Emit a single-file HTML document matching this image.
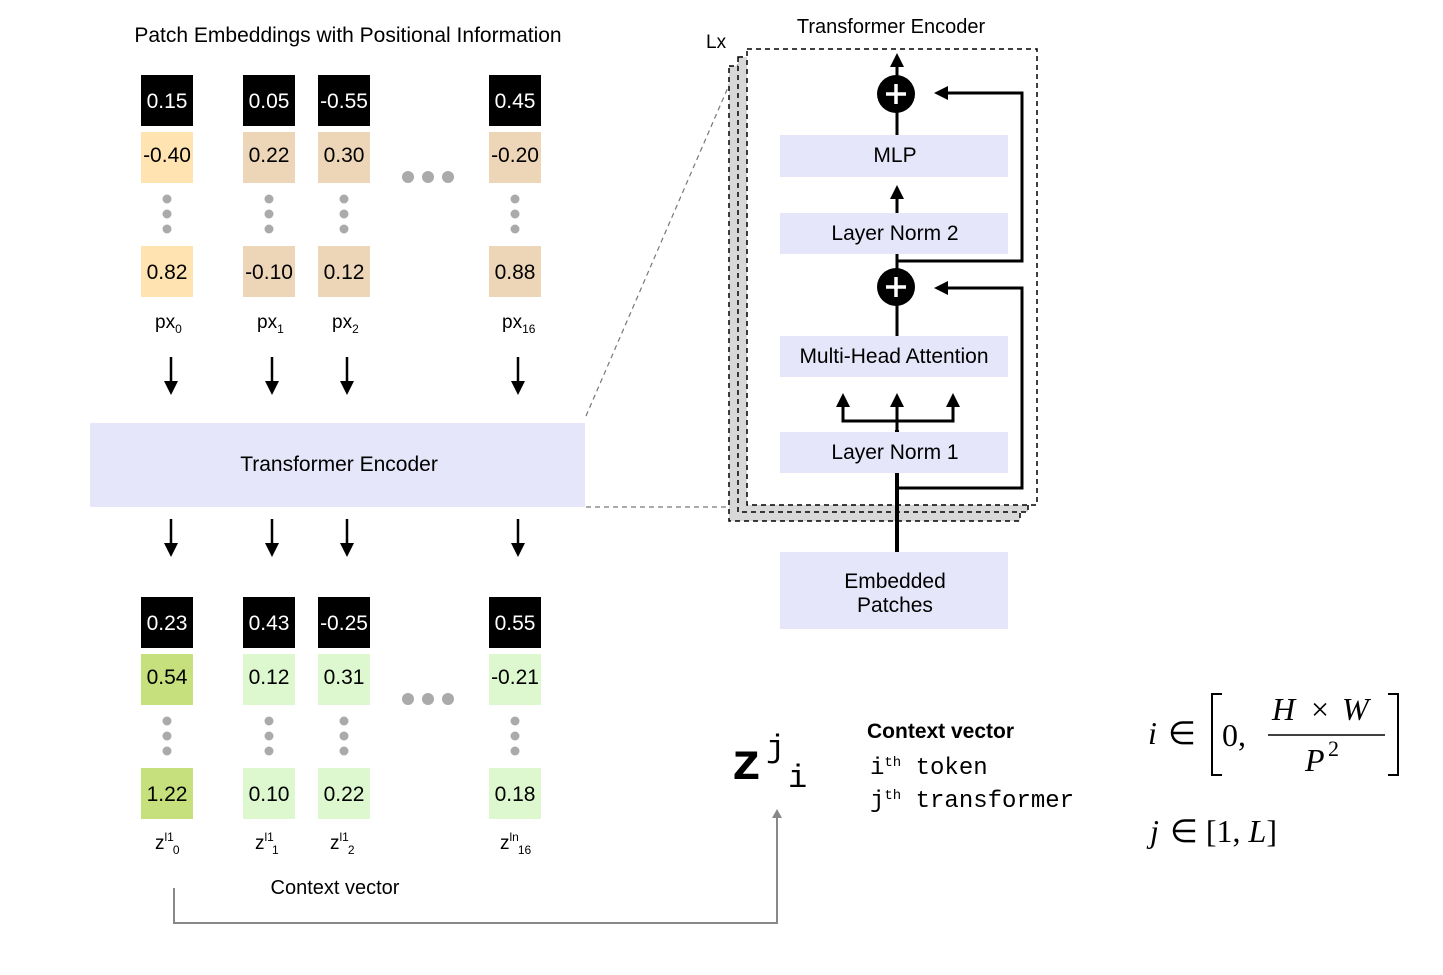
<!DOCTYPE html>
<html><head><meta charset="utf-8"><style>
html,body{margin:0;padding:0;background:#fff;}
svg{display:block;}
</style></head><body>
<svg width="1443" height="975" viewBox="0 0 1443 975" xmlns="http://www.w3.org/2000/svg" font-family="Liberation Sans, sans-serif">
<defs>
<marker id="ah" markerWidth="14" markerHeight="14" refX="7" refY="7" orient="auto" markerUnits="userSpaceOnUse"><path d="M0,0 L14,7 L0,14 Z" fill="#000"/></marker>
</defs>
<rect width="1443" height="975" fill="#fff"/>
<text x="348" y="42" font-size="21" text-anchor="middle">Patch Embeddings with Positional Information</text>

<g font-size="21" text-anchor="middle">
<rect x="141" y="75" width="52" height="51" fill="#000"/><text x="167" y="108" fill="#fff">0.15</text>
<rect x="243" y="75" width="52" height="51" fill="#000"/><text x="269" y="108" fill="#fff">0.05</text>
<rect x="318" y="75" width="52" height="51" fill="#000"/><text x="344" y="108" fill="#fff">-0.55</text>
<rect x="489" y="75" width="52" height="51" fill="#000"/><text x="515" y="108" fill="#fff">0.45</text>
<rect x="141" y="132" width="52" height="51" fill="#FFE4B2"/><text x="167" y="162">-0.40</text>
<rect x="243" y="132" width="52" height="51" fill="#EDD5B8"/><text x="269" y="162">0.22</text>
<rect x="318" y="132" width="52" height="51" fill="#EDD5B8"/><text x="344" y="162">0.30</text>
<rect x="489" y="132" width="52" height="51" fill="#EDD5B8"/><text x="515" y="162">-0.20</text>
<rect x="141" y="246" width="52" height="51" fill="#FFE4B2"/><text x="167" y="279">0.82</text>
<rect x="243" y="246" width="52" height="51" fill="#EDD5B8"/><text x="269" y="279">-0.10</text>
<rect x="318" y="246" width="52" height="51" fill="#EDD5B8"/><text x="344" y="279">0.12</text>
<rect x="489" y="246" width="52" height="51" fill="#EDD5B8"/><text x="515" y="279">0.88</text>
<rect x="141" y="597" width="52" height="51" fill="#000"/><text x="167" y="630" fill="#fff">0.23</text>
<rect x="243" y="597" width="52" height="51" fill="#000"/><text x="269" y="630" fill="#fff">0.43</text>
<rect x="318" y="597" width="52" height="51" fill="#000"/><text x="344" y="630" fill="#fff">-0.25</text>
<rect x="489" y="597" width="52" height="51" fill="#000"/><text x="515" y="630" fill="#fff">0.55</text>
<rect x="141" y="654" width="52" height="51" fill="#C5E07C"/><text x="167" y="684">0.54</text>
<rect x="243" y="654" width="52" height="51" fill="#DDF7CF"/><text x="269" y="684">0.12</text>
<rect x="318" y="654" width="52" height="51" fill="#DDF7CF"/><text x="344" y="684">0.31</text>
<rect x="489" y="654" width="52" height="51" fill="#DDF7CF"/><text x="515" y="684">-0.21</text>
<rect x="141" y="768" width="52" height="51" fill="#C5E07C"/><text x="167" y="801">1.22</text>
<rect x="243" y="768" width="52" height="51" fill="#DDF7CF"/><text x="269" y="801">0.10</text>
<rect x="318" y="768" width="52" height="51" fill="#DDF7CF"/><text x="344" y="801">0.22</text>
<rect x="489" y="768" width="52" height="51" fill="#DDF7CF"/><text x="515" y="801">0.18</text>
</g>

<g fill="#AAAAAA">
<circle cx="167" cy="199" r="4.5"/><circle cx="167" cy="214" r="4.5"/><circle cx="167" cy="229" r="4.5"/>
<circle cx="269" cy="199" r="4.5"/><circle cx="269" cy="214" r="4.5"/><circle cx="269" cy="229" r="4.5"/>
<circle cx="344" cy="199" r="4.5"/><circle cx="344" cy="214" r="4.5"/><circle cx="344" cy="229" r="4.5"/>
<circle cx="515" cy="199" r="4.5"/><circle cx="515" cy="214" r="4.5"/><circle cx="515" cy="229" r="4.5"/>
<circle cx="408" cy="177" r="6"/><circle cx="428" cy="177" r="6"/><circle cx="448" cy="177" r="6"/>
<circle cx="167" cy="721" r="4.5"/><circle cx="167" cy="736" r="4.5"/><circle cx="167" cy="751" r="4.5"/>
<circle cx="269" cy="721" r="4.5"/><circle cx="269" cy="736" r="4.5"/><circle cx="269" cy="751" r="4.5"/>
<circle cx="344" cy="721" r="4.5"/><circle cx="344" cy="736" r="4.5"/><circle cx="344" cy="751" r="4.5"/>
<circle cx="515" cy="721" r="4.5"/><circle cx="515" cy="736" r="4.5"/><circle cx="515" cy="751" r="4.5"/>
<circle cx="408" cy="699" r="6"/><circle cx="428" cy="699" r="6"/><circle cx="448" cy="699" r="6"/>
</g>

<g font-size="19">
<text x="155" y="328">px<tspan font-size="12" dy="5">0</tspan></text>
<text x="257" y="328">px<tspan font-size="12" dy="5">1</tspan></text>
<text x="332" y="328">px<tspan font-size="12" dy="5">2</tspan></text>
<text x="502" y="328">px<tspan font-size="12" dy="5">16</tspan></text>
<text x="155" y="849">z<tspan font-size="12" dy="-8">l1</tspan><tspan font-size="12" dx="-1" dy="13">0</tspan></text>
<text x="255" y="849">z<tspan font-size="12" dy="-8">l1</tspan><tspan font-size="12" dx="-1" dy="13">1</tspan></text>
<text x="330" y="849">z<tspan font-size="12" dy="-8">l1</tspan><tspan font-size="12" dx="-1" dy="13">2</tspan></text>
<text x="500" y="849">z<tspan font-size="12" dy="-8">ln</tspan><tspan font-size="12" dx="-1" dy="13">16</tspan></text>
<text x="335" y="894" text-anchor="middle" font-size="20">Context vector</text>
</g>

<g stroke="#000" stroke-width="2.5">
<line x1="171" y1="357" x2="171" y2="388" marker-end="url(#ah)"/>
<line x1="272" y1="357" x2="272" y2="388" marker-end="url(#ah)"/>
<line x1="347" y1="357" x2="347" y2="388" marker-end="url(#ah)"/>
<line x1="518" y1="357" x2="518" y2="388" marker-end="url(#ah)"/>
<line x1="171" y1="519" x2="171" y2="550" marker-end="url(#ah)"/>
<line x1="272" y1="519" x2="272" y2="550" marker-end="url(#ah)"/>
<line x1="347" y1="519" x2="347" y2="550" marker-end="url(#ah)"/>
<line x1="518" y1="519" x2="518" y2="550" marker-end="url(#ah)"/>
</g>

<rect x="90" y="423" width="495" height="84" fill="#E6E6FA"/>
<text x="339" y="471" font-size="21" text-anchor="middle">Transformer Encoder</text>

<g stroke="#777" stroke-width="1.2" stroke-dasharray="5,4" fill="none">
<line x1="586" y1="416" x2="742" y2="55"/>
<line x1="586" y1="507" x2="745" y2="507"/>
</g>

<rect x="729" y="66" width="291" height="455" fill="#D8D8D8" stroke="#000" stroke-width="1.5" stroke-dasharray="5,4"/>
<rect x="738" y="57" width="290" height="455" fill="#D8D8D8" stroke="#000" stroke-width="1.5" stroke-dasharray="5,4"/>
<rect x="747" y="49" width="290" height="456" fill="#fff" stroke="#000" stroke-width="1.5" stroke-dasharray="5,4"/>
<text x="706" y="48" font-size="19">Lx</text>
<text x="891" y="33" font-size="20" text-anchor="middle">Transformer Encoder</text>

<g stroke="#000" stroke-width="3" fill="none">
<line x1="897" y1="552" x2="897" y2="430" stroke-width="4"/>
<line x1="897" y1="336" x2="897" y2="300"/>
<line x1="897" y1="254" x2="897" y2="275"/>
<line x1="897" y1="135" x2="897" y2="105"/>
<line x1="897" y1="213" x2="897" y2="192" marker-end="url(#ah)"/>
<line x1="897" y1="82" x2="897" y2="60" marker-end="url(#ah)"/>
<polyline points="897,488 1022,488 1022,288 941,288" marker-end="url(#ah)"/>
<polyline points="897,261 1022,261 1022,93 941,93" marker-end="url(#ah)"/>
<line x1="897" y1="432" x2="897" y2="400" marker-end="url(#ah)"/>
<polyline points="843,403 843,421 953,421 953,403"/>
<line x1="843" y1="410" x2="843" y2="400" marker-end="url(#ah)"/>
<line x1="953" y1="410" x2="953" y2="400" marker-end="url(#ah)"/>
</g>

<g fill="#E6E6FA">
<rect x="780" y="135" width="228" height="42"/>
<rect x="780" y="213" width="228" height="41"/>
<rect x="780" y="336" width="228" height="41"/>
<rect x="780" y="432" width="228" height="41"/>
<rect x="780" y="552" width="228" height="77"/>
</g>
<g font-size="21" text-anchor="middle">
<text x="895" y="162">MLP</text>
<text x="895" y="240">Layer Norm 2</text>
<text x="894" y="363">Multi-Head Attention</text>
<text x="895" y="459">Layer Norm 1</text>
<text x="895" y="588">Embedded</text>
<text x="895" y="612">Patches</text>
</g>

<circle cx="896" cy="94" r="19" fill="#000"/>
<circle cx="896" cy="287" r="19" fill="#000"/>
<g stroke="#fff" stroke-width="3.5">
<line x1="886" y1="94" x2="906" y2="94"/><line x1="896" y1="84" x2="896" y2="104"/>
<line x1="886" y1="287" x2="906" y2="287"/><line x1="896" y1="277" x2="896" y2="297"/>
</g>

<polyline points="174,888 174,923 777,923 777,817" stroke="#888" stroke-width="2" fill="none"/>
<path d="M772,818 L777,809 L782,818 Z" fill="#888"/>

<text x="731" y="779" font-family="Liberation Mono, monospace" font-size="52" font-weight="bold">z</text>
<text x="766" y="757" font-family="Liberation Mono, monospace" font-size="32">j</text>
<text x="788" y="787" font-family="Liberation Mono, monospace" font-size="32">i</text>
<text x="867" y="738" font-size="21" font-weight="bold">Context vector</text>
<text x="870" y="774" font-family="Liberation Mono, monospace" font-size="24">i<tspan font-size="14" dy="-8">th</tspan><tspan dy="8"> token</tspan></text>
<text x="870" y="807" font-family="Liberation Mono, monospace" font-size="24">j<tspan font-size="14" dy="-8">th</tspan><tspan dy="8"> transformer</tspan></text>

<g font-family="Liberation Serif, serif" font-size="32">
<text x="1148" y="744" font-style="italic">i</text>
<text x="1168" y="744">∈</text>
<path d="M1222,694 L1212,694 L1212,775 L1222,775" stroke="#000" stroke-width="2" fill="none"/>
<text x="1222" y="746">0,</text>
<text x="1272" y="720" font-style="italic">H</text><text x="1311" y="720">×</text><text x="1342" y="720" font-style="italic">W</text>
<line x1="1268" y1="735" x2="1385" y2="735" stroke="#000" stroke-width="1.5"/>
<text x="1305" y="771" font-style="italic">P</text><text x="1328" y="756" font-size="22">2</text>
<path d="M1388,694 L1398,694 L1398,775 L1388,775" stroke="#000" stroke-width="2" fill="none"/>
<text x="1150" y="842" font-style="italic">j</text>
<text x="1170" y="842">∈ [1, <tspan font-style="italic">L</tspan>]</text>
</g>
</svg>
</body></html>
